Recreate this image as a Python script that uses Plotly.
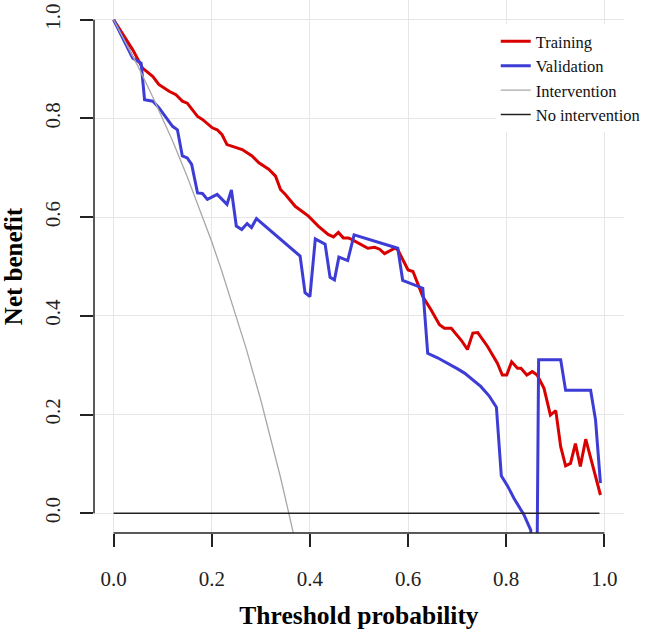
import plotly.graph_objects as go

# ---- data ----
train_x = [0.0, 0.039, 0.059, 0.080, 0.092, 0.113, 0.127, 0.140, 0.150, 0.171, 0.181, 0.201, 0.211,
           0.221, 0.231, 0.262, 0.282, 0.296, 0.316, 0.330, 0.340, 0.350, 0.370, 0.397, 0.417, 0.437,
           0.448, 0.458, 0.468, 0.478, 0.485, 0.501, 0.518, 0.532, 0.542, 0.552, 0.573, 0.579, 0.600,
           0.610, 0.630, 0.647, 0.664, 0.674, 0.688, 0.708, 0.721, 0.732, 0.742, 0.762, 0.776, 0.782,
           0.792, 0.801, 0.811, 0.823, 0.830, 0.842, 0.853, 0.863, 0.877, 0.890, 0.901, 0.911, 0.921,
           0.931, 0.941, 0.951, 0.962, 0.972, 0.982, 0.992]
train_y = [1.0, 0.939, 0.902, 0.885, 0.869, 0.855, 0.848, 0.835, 0.831, 0.804, 0.798, 0.781, 0.777,
           0.767, 0.747, 0.737, 0.724, 0.710, 0.697, 0.683, 0.656, 0.646, 0.622, 0.602, 0.582, 0.565,
           0.560, 0.569, 0.558, 0.558, 0.555, 0.547, 0.537, 0.539, 0.535, 0.526, 0.537, 0.534, 0.493,
           0.490, 0.439, 0.412, 0.382, 0.375, 0.375, 0.351, 0.332, 0.365, 0.366, 0.338, 0.312, 0.304,
           0.280, 0.280, 0.307, 0.294, 0.294, 0.280, 0.287, 0.280, 0.253, 0.199, 0.208, 0.135, 0.096,
           0.101, 0.141, 0.095, 0.150, 0.111, 0.074, 0.037]

valid_x = [0.0, 0.039, 0.056, 0.063, 0.080, 0.093, 0.120, 0.130, 0.140, 0.150, 0.159, 0.171, 0.181,
           0.191, 0.211, 0.231, 0.240, 0.250, 0.261, 0.272, 0.281, 0.291, 0.380, 0.390, 0.400, 0.411,
           0.431, 0.441, 0.450, 0.459, 0.477, 0.490, 0.579, 0.589, 0.630, 0.640, 0.660, 0.681, 0.700,
           0.715, 0.732, 0.748, 0.765, 0.780, 0.790, 0.803, 0.816, 0.836, 0.850, 0.856, 0.862, 0.866,
           0.911, 0.921, 0.972, 0.982, 0.992]
valid_y = [1.0, 0.922, 0.912, 0.838, 0.835, 0.821, 0.784, 0.777, 0.724, 0.720, 0.707, 0.649, 0.648,
           0.636, 0.646, 0.626, 0.655, 0.582, 0.575, 0.587, 0.579, 0.597, 0.521, 0.447, 0.439, 0.556,
           0.545, 0.478, 0.473, 0.519, 0.512, 0.564, 0.537, 0.472, 0.456, 0.324, 0.315, 0.304, 0.293,
           0.284, 0.271, 0.257, 0.238, 0.215, 0.076, 0.055, 0.030, -0.003, -0.034, -0.20, -0.20, 0.311,
           0.311, 0.249, 0.249, 0.189, 0.061]

all_x = [0.0, 0.02, 0.05, 0.08, 0.10, 0.12, 0.15, 0.18, 0.20, 0.22, 0.25, 0.27, 0.30, 0.32, 0.33,
         0.34, 0.357, 0.366, 0.37]
all_y = [1.0, 0.963, 0.905, 0.843, 0.800, 0.755, 0.682, 0.605, 0.550, 0.492, 0.400, 0.334, 0.229,
         0.153, 0.113, 0.073, 0.0, -0.040, -0.057]

none_x = [0.0, 0.99]
none_y = [0.0, 0.0]

tick_vals = [0.0, 0.2, 0.4, 0.6, 0.8, 1.0]
tick_text = ["0.0", "0.2", "0.4", "0.6", "0.8", "1.0"]

SERIF = "Liberation Serif"

fig = go.Figure()
fig.add_trace(go.Scatter(x=train_x, y=train_y, mode="lines", name="Training",
                         line=dict(color="#d90000", width=3)))
fig.add_trace(go.Scatter(x=valid_x, y=valid_y, mode="lines", name="Validation",
                         line=dict(color="#3d3dd6", width=3)))
fig.add_trace(go.Scatter(x=all_x, y=all_y, mode="lines", name="Intervention",
                         line=dict(color="#a8a8a8", width=1.3)))
fig.add_trace(go.Scatter(x=none_x, y=none_y, mode="lines", name="No intervention",
                         line=dict(color="#222222", width=1.5)))

# offset axis lines (R style)
fig.add_shape(type="line", xref="x", yref="paper", x0=0, x1=1, y0=0, y1=0,
              line=dict(color="#222222", width=1.5))
fig.add_shape(type="line", xref="paper", yref="y", x0=0, x1=0, y0=0, y1=1,
              line=dict(color="#222222", width=1.5))

fig.update_layout(
    width=646, height=634,
    margin=dict(l=94, r=20, t=0, b=101),
    paper_bgcolor="white", plot_bgcolor="white",
    font=dict(family=SERIF, color="#222222"),
    showlegend=True,
    legend=dict(x=0.758, y=0.955, xanchor="left", yanchor="top",
                bgcolor="white", borderwidth=0,
                font=dict(family=SERIF, size=16.5, color="#111111")),
    xaxis=dict(range=[-0.04, 1.04], tickvals=tick_vals, ticktext=tick_text,
               showgrid=True, gridcolor="#e6e6e6", gridwidth=1, zeroline=False,
               showline=False, ticks="outside", ticklen=13, tickwidth=1.5, tickcolor="#222222",
               ticklabelstandoff=14,
               tickfont=dict(family=SERIF, size=21, color="#222222"),
               title=dict(text="<b>Threshold probability</b>", standoff=15,
                          font=dict(family=SERIF, size=25.5, color="#000000"))),
    yaxis=dict(range=[-0.04, 1.04], tickvals=tick_vals, ticktext=tick_text,
               showgrid=True, gridcolor="#e6e6e6", gridwidth=1, zeroline=False,
               showline=False, ticks="outside", ticklen=13, tickwidth=1.5, tickcolor="#222222",
               tickangle=-90, ticklabelstandoff=12,
               tickfont=dict(family=SERIF, size=21, color="#222222"),
               title=dict(text="<b>Net benefit</b>", standoff=15,
                          font=dict(family=SERIF, size=25, color="#000000"))),
)

fig.write_html("out.html")
